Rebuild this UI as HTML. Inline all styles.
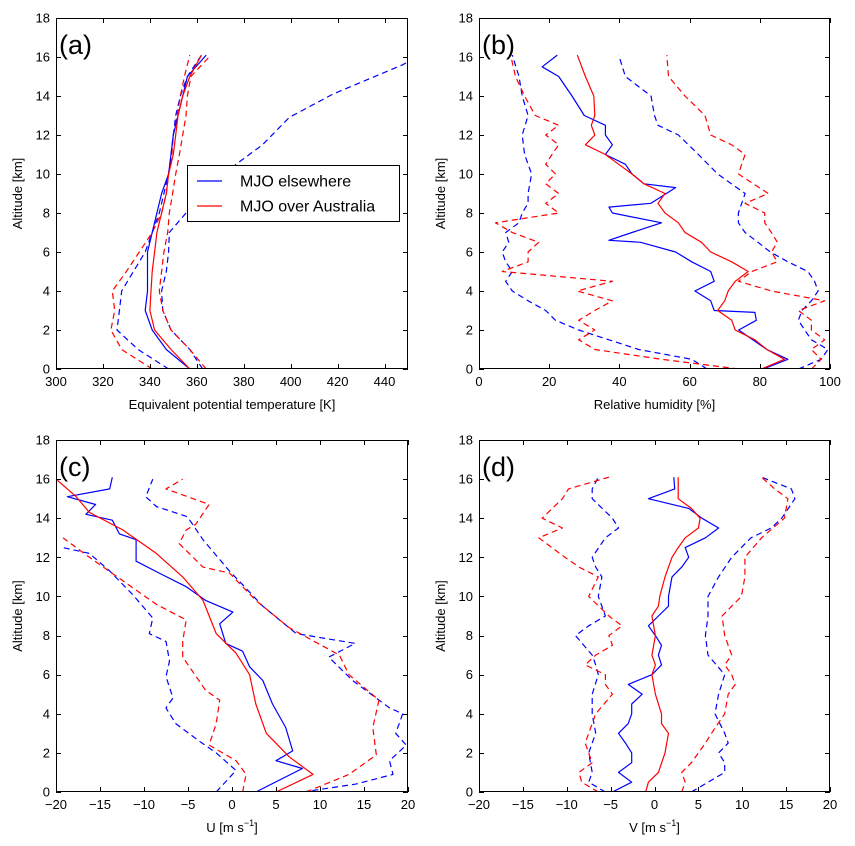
<!DOCTYPE html>
<html><head><meta charset="utf-8"><style>
html,body{margin:0;padding:0;background:#fff;}
svg{display:block;font-family:"Liberation Sans","DejaVu Sans",sans-serif;}
</style></head><body>
<svg id="fig" width="855" height="846" viewBox="0 0 855 846" xmlns="http://www.w3.org/2000/svg"></svg>
<script>
// ---------- data ----------
// Panel (a): equivalent potential temperature [K]
const aBlueSolidAlt=[0,1,2,3,4,5,6,7,8,9,10,11,12,13,14,15,16.1];
const aBlueSolid=[357,347,341,338,339,339,339,341,343,345,348,349,350,352,354,356,364];
const aRedSolidAlt=[0,1,2,3,4,5,6,7,8,9,10,11,12,13,14,15,16.1];
const aRedSolid=[357,349,342,340,340.5,341,342,343,345,347,348,350,351,352,354,357,362];
const aBlueLoAlt=[0,1,2,3,4,5,6,7,8,9,10,11,12,13,14,15,16.1];
const aBlueLo=[348,335,326,327,328,333,338,341,344,346,348,349,350,351,353,356,362];
const aBlueHiAlt=[0,1,2,3,4,5,6,7,8,9,10,10.5,11.5,12.9,14.1,15.6,16.1];
const aBlueHi=[362.5,357,349,345.5,345,347,348,348.3,355.4,365,372.4,376.7,388,399.4,418,447.7,455];
const aRedLoAlt=[0,1,2,3,4,5,6,7,8,9,10,11,12,13,14,15,16.1];
const aRedLo=[341,328,323.4,325,324,330,335.5,341,345,347,348,349.4,350,351.6,353,354.7,357];
const aRedHiAlt=[0,1,2,3,4,5,6,7,8,9,10,11,12,13,14,15,16.1];
const aRedHi=[364,357,349,345.5,344,345,346,347.6,348.3,349.7,351,352.6,354,355.4,356,357.5,366];

// Panel (b): relative humidity [%]
const bBlueSolidAlt=[0,0.5,1,1.5,2,2.5,2.9,3,3.5,4,4.5,5,5.5,6,6.5,6.6,7,7.5,8,8.3,8.5,9.3,9.5,10,10.5,11,11.5,12,12.5,13,14,15,15.5,16.1];
const bBlueSolid=[81,88,82,78,74,79,78.6,67,66,61.5,67,66,60.6,56,46,37,43.6,52,38,37,49,56,47,43.6,41.7,36,38,36,36,30,26.5,22.7,18,22.3];
const bRedSolidAlt=[0,0.5,1,1.5,2,2.5,3,3.5,4,4.5,5,5.5,6,6.5,7,7.5,8,8.5,9,9.5,10,10.5,11,11.5,12,12.5,13,14,15,16.1];
const bRedSolid=[80.5,87,82,78.6,73,72,68,70,71,73,76.7,72,66,63.4,58.7,56.8,53,51,53,47,43.6,39.8,36,30.3,33,32,33,32.7,30.3,28];
const bBlueLoAlt=[0,0.5,1,1.5,2,2.5,3,3.5,4,4.5,5,5.5,6,6.5,7,7.5,8,8.5,9,10,11,12,13,14,15,16.1];
const bBlueLo=[65,60.6,45.5,37,28.4,21.8,19,14,9.5,7.6,9.5,7.6,6.6,8.5,7.6,11.4,12.3,14,14,15,13,12.3,14,12.3,11.4,9.5];
const bRedLoAlt=[0,0.5,1,1.5,2,2.5,3,3.5,4,4.5,5,5.5,6,6.5,7,7.5,8,8.5,9,9.5,10,10.5,11,11.5,12,12.5,13,14,15,16.1];
const bRedLo=[74,52,33,28.4,33,28.4,33,38,28,38,6.6,14,14,17,9.5,4.7,22.7,19,22.7,19,21.8,19,20.8,22.7,19,22.7,16,13,10.4,9];
const bBlueHiAlt=[0,0.5,1,1.5,2,2.5,3,3.5,4,4.5,5,5.5,6,6.5,7,7.5,8,9,10,11,12,12.5,13,14,15,16.1];
const bBlueHi=[91,97.5,99.4,94.7,92.8,91,92,94.7,96.6,95.6,93.7,88,83,79.5,75.8,73.9,73.9,75.8,68,62.5,56.8,51,50,49,41.7,39.8];
const bRedHiAlt=[0,0.5,1,1.5,2,2.5,3,3.5,4,4.5,5,5.5,6,6.5,7,7.5,8,8.5,9,10,11,11.5,12,13,14,15,16.1];
const bRedHi=[94.7,97.5,94.7,98.5,94.7,94.7,91,98.5,83.3,73.9,77.7,85,83.3,85,83.3,81.4,81.4,75.8,82.4,73.9,75.8,72,66,64.4,58.7,54,53.5];

// Panel (c): zonal wind U [m/s]
const cBlueSolidAlt=[0,1.2,1.6,2.1,3.3,4.5,5.7,6.4,7.2,7.6,8.6,9.2,9.8,10.5,11.2,11.8,12.9,13.2,13.9,14.2,14.7,15.1,15.5,16.1];
const cBlueSolid=[2.7,8,5,6.9,6.1,4.6,3.5,2,1.2,-0.7,-1.4,0.1,-3,-5.2,-8.3,-10.9,-10.9,-12.8,-13.6,-16.6,-15.5,-18.7,-13.9,-13.6];
const cRedSolidAlt=[0,0.9,1.8,3,4.5,6,7.1,8.1,9.8,11,12.2,13.4,14.3,15.1,16];
const cRedSolid=[5,9.2,6.5,3.9,2.7,2,0.45,-1.8,-3.3,-5.6,-8.6,-12.4,-16.2,-17.7,-20];
const cBlueLoAlt=[0,1.1,2,2.6,3.5,4.3,4.8,5.9,6.7,7.7,8.1,8.9,10.1,11.3,12.2,12.5];
const cBlueLo=[-1.8,0.45,-1.8,-3.7,-6.4,-7.5,-6.7,-7.5,-7.1,-7.5,-9.4,-9,-11.3,-13.9,-16.2,-19.2];
const cRedLoAlt=[0,0.9,1.6,2.4,3.5,4.7,5.2,6.9,7.7,8.8,9.6,10.8,12,13];
const cRedLo=[1.2,1.6,0.45,-2.6,-1.8,-1.4,-3,-5.6,-5.6,-5.2,-8.6,-12.4,-16.2,-19.2];
const cBlueHiAlt=[0,0.4,0.9,1.6,2.4,3,4,4.3,5.7,6.9,7.6,8.1,9.5,10.6,11.3,12.9,13.9,14.1,14.6,15.1,16];
const cBlueHi=[8,14,18.3,17.9,19.8,18.6,19.4,17.9,13.7,11,14,7.3,3.5,1.2,-0.3,-3.3,-4.8,-5.2,-8.6,-9.8,-9];
const cRedHiAlt=[0,0.2,0.9,1.9,3.3,4.7,6,7,8.4,9.8,11.2,11.5,12.7,13.4,13.7,14.7,15.5,16];
const cRedHi=[8.4,9.5,13.3,16.4,16,16.7,13.3,12.2,6.5,2.7,-0.3,-3.3,-6,-5.2,-4.1,-2.6,-7.5,-5.6];

// Panel (d): meridional wind V [m/s]
const dBlueSolidAlt=[0,0.5,1,1.5,2,2.5,3,3.5,4,4.5,5,5.5,6,6.5,7,7.5,8,8.5,9,9.5,10,11,11.5,12,12.5,13,13.5,14,14.5,15,15.5,16.1];
const dBlueSolid=[-4.8,-2.6,-4.1,-2.6,-2.6,-3.3,-4.1,-3,-2.6,-2.6,-1.4,-3,-0.3,0.8,0.45,0.8,0.1,-0.7,0.45,1.6,1.6,2,3.1,3.9,3.5,5.8,7.3,5.4,3.9,-0.7,2.3,2.2];
const dRedSolidAlt=[0,0.5,1,2,3,3.5,4,5,6,6.5,7,8,9,9.5,10,11,12,12.5,13,13.5,14,14.5,15,16.1];
const dRedSolid=[-1,-0.7,0.45,1.2,1.6,0.8,0.8,0.1,-0.3,0.1,-0.3,0.1,-0.3,0.45,0.6,1.2,2,2.7,3.5,5,5.2,4.2,2.7,2.7];
const dBlueLoAlt=[0,0.5,1,2,3,4,5,6,6.5,7,8,8.5,9,10,11,11.5,12,13,13.5,14,15,15.5,16.1];
const dBlueLo=[-5.6,-7.5,-7.1,-7.5,-6.7,-7.1,-7.1,-6.4,-6.7,-7.1,-9,-7.5,-5.6,-6.4,-6,-6.7,-7.1,-5.6,-4.1,-4.8,-7.1,-7.1,-6.4];
const dRedLoAlt=[0,0.5,1,1.5,2,2.5,3,4,5,5.5,6,6.5,7,7.5,8,8.5,9,10,11,11.5,12,13,13.5,14,15,15.5,16.1];
const dRedLo=[-6.4,-8.3,-8.6,-7.1,-7.5,-7.9,-7.5,-6.7,-4.8,-5.6,-5.6,-7.9,-6.7,-4.8,-5.2,-3.7,-5.2,-7.5,-6.4,-8.6,-10.2,-13.2,-10.5,-12.8,-10.5,-9.8,-5.2];
const dBlueHiAlt=[0,0.5,1,1.5,2,2.5,3,4,5,6,7,8,9,10,11,12,13,13.5,14,15,15.5,16.1];
const dBlueHi=[4.2,6.1,8,8,7.3,8.4,8,6.9,7.3,8,6.1,5.8,6.1,6.1,7.3,8.8,11,13.3,14.5,16,15.6,12.2];
const dRedHiAlt=[0,0.5,1,1.5,2,2.5,3,4,5,5.5,6,6.5,7,8,9,9.5,10,11,12,13,14,15,15.5,16.1];
const dRedHi=[3.1,3.5,3.1,4.2,5,5.8,6.5,8,8.4,9.2,8.8,8,8.8,8,7.7,8.8,9.9,10.3,10.3,12.2,14.8,15.2,13.7,12.2];

const yTicks=[0,2,4,6,8,10,12,14,16,18];
const aTicks=[300,320,340,360,380,400,420,440];
const bTicks=[0,20,40,60,80,100];
const cdTicks=[-20,-15,-10,-5,0,5,10,15,20];

// ---------- drawing ----------
const NS="http://www.w3.org/2000/svg";
const svg=document.getElementById('fig');
function mk(tag,attrs,parent){const e=document.createElementNS(NS,tag);for(const k in attrs)e.setAttribute(k,attrs[k]);(parent||svg).appendChild(e);return e;}
function fmt(v){return v<0?'\u2212'+Math.abs(v):String(v);}

const panels=[
 {id:'a',x0:56,y0:18,w:352,h:351,xmin:300,xmax:450,ticks:aTicks,label:'Equivalent potential temperature [K]',sup:null,
  series:[[aBlueLoAlt,aBlueLo,'blue',1],[aBlueHiAlt,aBlueHi,'blue',1],[aRedLoAlt,aRedLo,'red',1],[aRedHiAlt,aRedHi,'red',1],[aBlueSolidAlt,aBlueSolid,'blue',0],[aRedSolidAlt,aRedSolid,'red',0]]},
 {id:'b',x0:479,y0:18,w:351,h:351,xmin:0,xmax:100,ticks:bTicks,label:'Relative humidity [%]',sup:null,
  series:[[bBlueLoAlt,bBlueLo,'blue',1],[bBlueHiAlt,bBlueHi,'blue',1],[bRedLoAlt,bRedLo,'red',1],[bRedHiAlt,bRedHi,'red',1],[bBlueSolidAlt,bBlueSolid,'blue',0],[bRedSolidAlt,bRedSolid,'red',0]]},
 {id:'c',x0:56,y0:440,w:352,h:352,xmin:-20,xmax:20,ticks:cdTicks,label:'U  [m s',sup:'\u22121',
  series:[[cBlueLoAlt,cBlueLo,'blue',1],[cBlueHiAlt,cBlueHi,'blue',1],[cRedLoAlt,cRedLo,'red',1],[cRedHiAlt,cRedHi,'red',1],[cBlueSolidAlt,cBlueSolid,'blue',0],[cRedSolidAlt,cRedSolid,'red',0]]},
 {id:'d',x0:479,y0:440,w:351,h:352,xmin:-20,xmax:20,ticks:cdTicks,label:'V  [m s',sup:'\u22121',
  series:[[dBlueLoAlt,dBlueLo,'blue',1],[dBlueHiAlt,dBlueHi,'blue',1],[dRedLoAlt,dRedLo,'red',1],[dRedHiAlt,dRedHi,'red',1],[dBlueSolidAlt,dBlueSolid,'blue',0],[dRedSolidAlt,dRedSolid,'red',0]]}
];
const snames=['elsewhere-lower-bound','elsewhere-upper-bound','australia-lower-bound','australia-upper-bound','elsewhere-mean','australia-mean'];

panels.forEach(p=>{
  const g=mk('g',{});
  
  
  const sx=v=>p.x0+(v-p.xmin)/(p.xmax-p.xmin)*p.w;
  const sy=v=>p.y0+p.h-(v/18)*p.h;
  const cid='clip-'+p.id;
  const cp=mk('clipPath',{id:cid},g);
  mk('rect',{x:p.x0,y:p.y0,width:p.w,height:p.h},cp);
  const lg=mk('g',{'clip-path':'url(#'+cid+')'},g);
  
  
  p.series.forEach((s,i)=>{
    const alt=s[0],val=s[1];
    const pts=alt.map((a,k)=>sx(val[k]).toFixed(1)+','+sy(a).toFixed(1)).join(' ');
    const pl=mk('polyline',{points:pts,fill:'none',stroke:s[2],'stroke-width':1.2,'stroke-dasharray':s[3]?'6,4':'none','stroke-linejoin':'round'},lg);
    
    
  });
  const fr=mk('rect',{x:p.x0+0.5,y:p.y0+0.5,width:p.w-1,height:p.h-1,fill:'none',stroke:'#000','stroke-width':1},g);
  
  
  p.ticks.forEach(t=>{
    const x=Math.round(sx(t))+0.5;
    mk('line',{x1:x,x2:x,y1:p.y0+p.h,y2:p.y0+p.h-5,stroke:'#000'},g);
    mk('line',{x1:x,x2:x,y1:p.y0,y2:p.y0+5,stroke:'#000'},g);
    const tl=mk('text',{x:sx(t),y:p.y0+p.h+17,'text-anchor':'middle','font-size':13},g);
    tl.textContent=fmt(t);
    
    
  });
  yTicks.forEach(t=>{
    const y=Math.round(sy(t))+0.5;
    mk('line',{x1:p.x0,x2:p.x0+5,y1:y,y2:y,stroke:'#000'},g);
    mk('line',{x1:p.x0+p.w,x2:p.x0+p.w-5,y1:y,y2:y,stroke:'#000'},g);
    const tl=mk('text',{x:p.x0-6,y:sy(t)+4.5,'text-anchor':'end','font-size':13},g);
    tl.textContent=String(t);
    
    
  });
  const xl=mk('text',{x:p.x0+p.w/2,y:p.y0+p.h+40,'text-anchor':'middle','font-size':13},g);
  xl.textContent=p.label;
  if(p.sup){const ts=mk('tspan',{'font-size':9,dy:-6},xl);ts.textContent=p.sup;const t2=mk('tspan',{dy:6},xl);t2.textContent=']';}
  
  
  const yl=mk('text',{x:0,y:0,'text-anchor':'middle','font-size':13,transform:'translate('+(p.x0-34)+','+(p.y0+p.h/2)+') rotate(-90)'},g);
  yl.textContent='Altitude [km]';
  
  
  const pl=mk('text',{x:p.x0+3,y:p.y0+36,'font-size':27},g);
  pl.textContent='('+p.id+')';
  
  
});

// legend in panel (a)
const leg=mk('g',{});


mk('rect',{x:187.5,y:165.5,width:212,height:56,fill:'#fff',stroke:'#000','stroke-width':1},leg);
[['MJO elsewhere','blue',181],['MJO over Australia','red',206]].forEach(e=>{
  const it=mk('g',{},leg);
  
  
  mk('line',{x1:197,x2:222,y1:e[2],y2:e[2],stroke:e[1],'stroke-width':1.2},it);
  const t=mk('text',{x:240,y:e[2]+5.5,'font-size':16},it);
  t.textContent=e[0];
});
</script>
</body></html>
